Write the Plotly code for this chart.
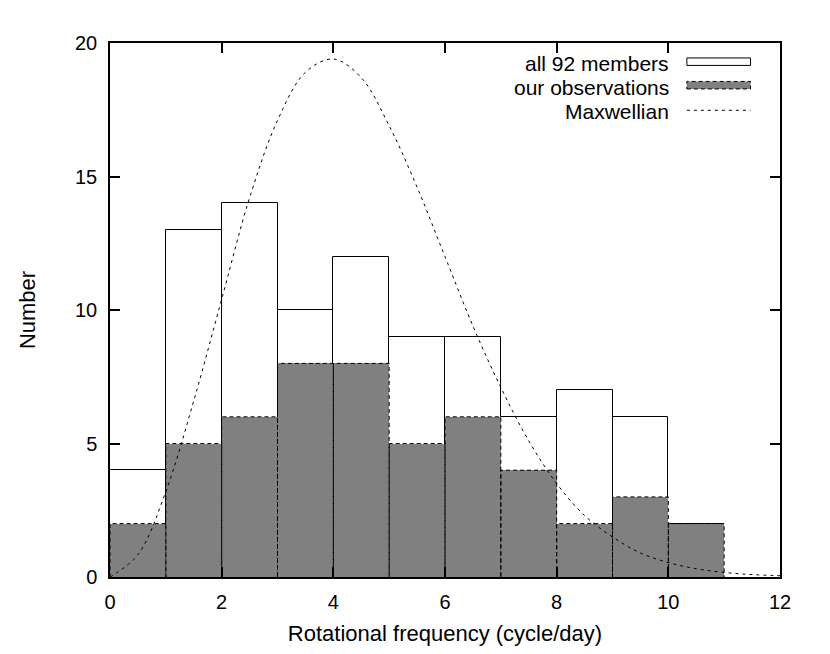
import plotly.graph_objects as go

# histogram bins (left edges, width 1 cycle/day)
bin_left = [0, 1, 2, 3, 4, 5, 6, 7, 8, 9, 10]
all_members = [4, 13, 14, 10, 12, 9, 9, 6, 7, 6, 2]
our_obs = [2, 5, 6, 8, 8, 5, 6, 4, 2, 3, 2]

# Maxwellian curve
maxw_x = [0, 0.5, 1, 1.5, 2, 2.5, 3, 3.5, 4, 4.5, 5, 5.5, 6, 6.5, 7, 7.5, 8, 8.5,
          9, 9.5, 10, 10.5, 11, 11.5, 12]
maxw_y = [0, 0.84, 3.2, 6.6, 10.4, 14.2, 17.1, 18.9, 19.4, 18.7, 16.9, 14.6, 12.0,
          9.4, 7.1, 5.1, 3.5, 2.3, 1.5, 0.9, 0.54, 0.31, 0.17, 0.09, 0.05]

GREY = "#808080"
FONT = "Liberation Sans, Arial, Helvetica, sans-serif"

fig = go.Figure()

centers = [b + 0.5 for b in bin_left]
fig.add_trace(go.Bar(
    x=centers, y=all_members, width=1,
    marker=dict(color="white", line=dict(color="black", width=1)),
    name="all 92 members", showlegend=False
))
fig.add_trace(go.Bar(
    x=centers, y=our_obs, width=1,
    marker=dict(color=GREY, line=dict(width=0)),
    name="our observations", showlegend=False
))

# dashed outlines of the observation bars
ox, oy = [], []
for b, h in zip(bin_left, our_obs):
    ox += [b, b, b + 1, b + 1, None]
    oy += [0, h, h, 0, None]
fig.add_trace(go.Scatter(
    x=ox, y=oy, mode="lines",
    line=dict(color="black", width=1, dash="4px,3px"),
    showlegend=False, hoverinfo="skip"
))

fig.add_trace(go.Scatter(
    x=maxw_x, y=maxw_y, mode="lines",
    line=dict(color="black", width=1, dash="3px,4px", shape="spline"),
    name="Maxwellian", showlegend=False
))

# legend drawn by hand (text on the left, key on the right, like gnuplot)
legend_rows = [("all 92 members", 0.962), ("our observations", 0.917), ("Maxwellian", 0.872)]
for txt, yy in legend_rows:
    fig.add_annotation(xref="paper", yref="paper", x=0.838, y=yy, text=txt,
                       showarrow=False, xanchor="right", yanchor="middle",
                       font=dict(family=FONT, size=21, color="black"))
key_x0, key_x1 = 0.861, 0.956
fig.add_shape(type="rect", xref="paper", yref="paper",
              x0=key_x0, x1=key_x1, y0=0.958, y1=0.972,
              line=dict(color="black", width=1), fillcolor="white")
fig.add_shape(type="rect", xref="paper", yref="paper",
              x0=key_x0, x1=key_x1, y0=0.914, y1=0.928,
              line=dict(color="black", width=1, dash="4px,3px"), fillcolor=GREY)
fig.add_shape(type="line", xref="paper", yref="paper",
              x0=key_x0, x1=key_x1, y0=0.874, y1=0.874,
              line=dict(color="black", width=1, dash="3px,4px"))

axis_common = dict(
    showline=True, linecolor="black", linewidth=1.5, mirror="allticks",
    ticks="inside", ticklen=10, tickwidth=1.5, tickcolor="black",
    showgrid=False, zeroline=False,
    tickfont=dict(family=FONT, size=20, color="black"),
)

fig.update_layout(
    width=830, height=654,
    margin=dict(l=102, r=58, t=35, b=85),
    plot_bgcolor="white", paper_bgcolor="white",
    barmode="overlay", bargap=0,
    showlegend=False,
    font=dict(family=FONT, size=20, color="black"),
    xaxis=dict(range=[0, 12], dtick=2, ticklabelstandoff=6,
               title=dict(text="Rotational frequency (cycle/day)", standoff=14,
                          font=dict(family=FONT, size=22)),
               **axis_common),
    yaxis=dict(range=[0, 20], dtick=5, ticklabelstandoff=7,
               title=dict(text="Number", standoff=33,
                          font=dict(family=FONT, size=22)),
               **axis_common),
)

fig.write_html("out.html")
